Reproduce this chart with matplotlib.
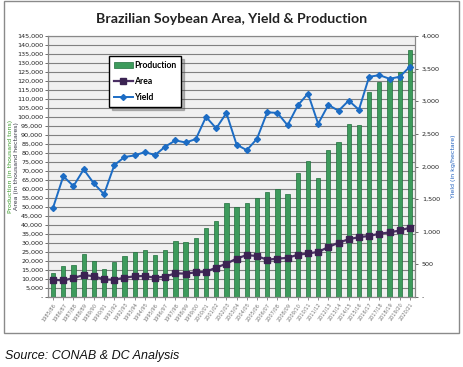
import matplotlib
matplotlib.use("Agg")
import matplotlib.pyplot as plt
from matplotlib.patches import Rectangle
from matplotlib.ticker import FuncFormatter, MultipleLocator

years = ["1985/86", "1986/87", "1987/88", "1988/89", "1989/90", "1990/91", "1991/92",
         "1992/93", "1993/94", "1994/95", "1995/96", "1996/97", "1997/98", "1998/99",
         "1999/00", "2000/01", "2001/02", "2002/03", "2003/04", "2004/05", "2005/06",
         "2006/07", "2007/08", "2008/09", "2009/10", "2010/11", "2011/12", "2012/13",
         "2013/14", "2014/15", "2015/16", "2016/17", "2017/18", "2018/19", "2019/20",
         "2020/21"]

production = [13333, 16977, 18016, 23929, 20101, 15395, 19419, 23042, 24932, 25934,
              23190, 26160, 31370, 30765, 32890, 38432, 42230, 52018, 49793, 52305,
              55027, 58392, 60018, 57166, 68688, 75324, 66383, 81499, 86121, 96228,
              95435, 114075, 119282, 120900, 124800, 137300]

area = [9631, 9173, 10519, 12205, 11551, 9743, 9582, 10717, 11502, 11679,
        10663, 11381, 13158, 12995, 13693, 13970, 16386, 18475, 21376, 23301,
        22749, 20687, 21313, 21743, 23468, 24181, 25042, 27736, 30173, 32093,
        33252, 33909, 35149, 35874, 36950, 38502]

yield_ = [1370, 1850, 1700, 1955, 1740, 1575, 2020, 2145, 2170, 2221,
          2175, 2305, 2400, 2368, 2420, 2760, 2585, 2820, 2335, 2250,
          2425, 2830, 2822, 2632, 2935, 3118, 2655, 2945, 2854, 3010,
          2870, 3375, 3400, 3345, 3375, 3530]

W, H = 463, 367
fig = plt.figure(figsize=(W / 100, H / 100), dpi=100)
fig.patch.set_facecolor("white")

# outer chart border
fig.patches.append(Rectangle((4 / W, 1 - 333 / H), 455 / W, 332 / H,
                             transform=fig.transFigure, fill=False,
                             edgecolor="#8a8a8a", lw=1.0))

ax = fig.add_axes([48 / W, 1 - 297 / H, 367 / W, 261 / H])
ax.set_facecolor("#f0f0f0")
x = list(range(len(years)))

bars = ax.bar(x, production, width=0.42, color="#3d9b5c", edgecolor="#1f6e3c",
              linewidth=0.5, zorder=2, label="Production")
area_line, = ax.plot(x, area, color="#4a2f63", lw=1.6, marker="s", markersize=4.2,
                     markerfacecolor="#3b2352", markeredgecolor="#3b2352", zorder=3,
                     label="Area")

ax.set_xlim(-0.5, len(years) - 0.5)
ax.set_ylim(0, 145000)
ax.yaxis.set_major_locator(MultipleLocator(5000))
ax.yaxis.set_major_formatter(FuncFormatter(lambda v, p: "-" if v == 0 else f"{int(v):,}"))
ax.grid(axis="y", color="#808080", lw=0.8, zorder=0)
ax.set_axisbelow(True)
ax.tick_params(axis="y", labelsize=4.6, length=2, width=0.6, colors="#555555",
               labelcolor="#222222", pad=1.5)
ax.set_xticks(x)
ax.set_xticklabels(years, rotation=55, ha="right", rotation_mode="anchor",
                   fontsize=3.6, color="#444444")
ax.tick_params(axis="x", length=2, width=0.6, colors="#777777", pad=1.5)
for s in ax.spines.values():
    s.set_color("#888888")
    s.set_linewidth(0.8)

ax2 = ax.twinx()
yield_line, = ax2.plot(x, yield_, color="#1c6cc4", lw=1.4, marker="D", markersize=3.0,
                       markerfacecolor="#1c6cc4", markeredgecolor="#1c6cc4", zorder=4,
                       label="Yield")
ax2.set_ylim(0, 4000)
ax2.yaxis.set_major_locator(MultipleLocator(500))
ax2.yaxis.set_major_formatter(FuncFormatter(lambda v, p: "-" if v == 0 else f"{int(v):,}"))
ax2.tick_params(axis="y", labelsize=4.6, length=2, width=0.6, colors="#555555",
                labelcolor="#222222", pad=3)
for s in ax2.spines.values():
    s.set_color("#888888")
    s.set_linewidth(0.8)

leg = ax2.legend([bars, area_line, yield_line], ["Production", "Area", "Yield"],
                 loc="upper left",
                 bbox_to_anchor=((109 - 48) / 367, (297 - 56) / 261),
                 borderaxespad=0, frameon=True, fancybox=False, shadow={"ox": 2, "oy": -2, "alpha": 0.35},
                 prop={"family": "Lato", "weight": "bold", "size": 6.2},
                 handlelength=2.2, handletextpad=0.15, labelspacing=0.85,
                 borderpad=0.55, framealpha=1)
leg.get_frame().set_edgecolor("black")
leg.get_frame().set_linewidth(1.0)

fig.text(0.5, 1 - 23.3 / H, "Brazilian Soybean Area, Yield & Production",
         ha="center", va="baseline", fontsize=10.2, fontweight="bold",
         family="Lato", color="#222222")

fig.text(11 / W, 1 - 166 / H, "Production (in thousand tons)", rotation=90,
         ha="center", va="center", fontsize=4.5, color="#3a9a2a")
fig.text(17 / W, 1 - 166 / H, "Area (in thousand hectares)", rotation=90,
         ha="center", va="center", fontsize=4.5, color="#333344")
fig.text(454 / W, 1 - 166 / H, "Yield (in kg/hectare)", rotation=90,
         ha="center", va="center", fontsize=4.5, color="#1f5fbf")

fig.text(5 / W, 1 - 359 / H, "Source: CONAB & DC Analysis", ha="left",
         va="baseline", fontsize=9, style="italic", family="Liberation Sans",
         color="#111111")

fig.savefig("out.png", dpi=100)
